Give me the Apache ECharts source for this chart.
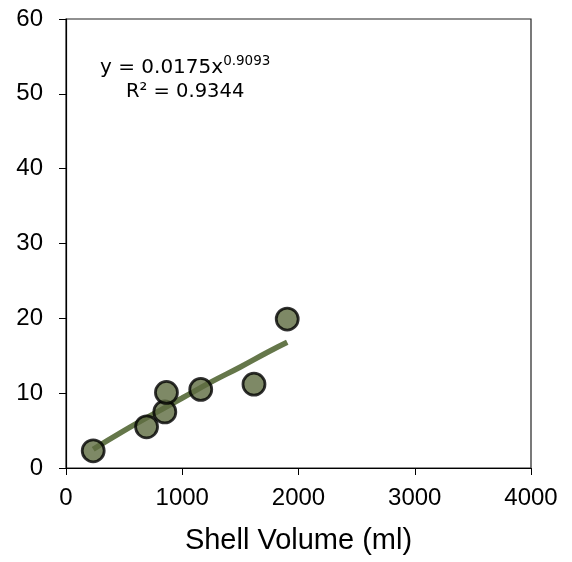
<!DOCTYPE html>
<html>
<head>
<meta charset="utf-8">
<script src="https://cdn.jsdelivr.net/npm/echarts@6/dist/echarts.min.js"></script>
<style>html,body{margin:0;padding:0;background:#fff}#c{width:572px;height:562px}</style>
</head>
<body>
<div id="c"></div>
<script>
var shellVolume = [234, 693, 850, 864, 1159, 1617, 1903];
var yValues = [2.3, 5.5, 7.5, 10.1, 10.5, 11.2, 19.9];
var trendX = [234, 500, 750, 1000, 1250, 1500, 1750, 1903];
var trendY = [2.5, 5.0, 7.2, 9.35, 11.5, 13.5, 15.6, 16.8];
var xTicks = [0, 1000, 2000, 3000, 4000];
var yTicks = [0, 10, 20, 30, 40, 50, 60];

var chart = echarts.init(document.getElementById('c'));
var pts = shellVolume.map(function (v, i) { return [v, yValues[i]]; });
var trend = trendX.map(function (v, i) { return [v, trendY[i]]; });

chart.setOption({
  animation: false,
  grid: { left: 66, right: 41, top: 19, bottom: 94, show: true, borderColor: '#222', borderWidth: 1.2 },
  xAxis: {
    type: 'value', min: 0, max: 4000, interval: 1000,
    name: 'Shell Volume (ml)', nameLocation: 'middle', nameGap: 58,
    nameTextStyle: { fontFamily: 'Liberation Sans', fontSize: 29, color: '#000' },
    axisLine: { show: true, lineStyle: { color: '#000', width: 1.2 } },
    axisTick: { show: true, length: 7, lineStyle: { color: '#000' } },
    axisLabel: { margin: 18, fontFamily: 'Liberation Sans', fontSize: 24, color: '#000',
      formatter: function (v) { return xTicks.indexOf(v) >= 0 ? String(v) : ''; } },
    splitLine: { show: false }
  },
  yAxis: {
    type: 'value', min: 0, max: 60, interval: 10,
    axisLine: { show: true, lineStyle: { color: '#000', width: 1.2 } },
    axisTick: { show: true, length: 7, lineStyle: { color: '#000' } },
    axisLabel: { margin: 23, fontFamily: 'Liberation Sans', fontSize: 24, color: '#000',
      formatter: function (v) { return yTicks.indexOf(v) >= 0 ? String(v) : ''; } },
    splitLine: { show: false }
  },
  series: [
    {
      type: 'line', data: trend, showSymbol: false, symbol: 'none', smooth: true,
      lineStyle: { color: '#65774a', width: 5.5 }, z: 2
    },
    {
      type: 'scatter', data: pts, symbol: 'circle', symbolSize: 22,
      itemStyle: { color: '#5e6c40', borderColor: '#000', borderWidth: 2.8 }, z: 3
    }
  ],
  graphic: [
    {
      type: 'text', left: 100, top: 54,
      style: {
        rich: {
          a: { fontFamily: 'DejaVu Sans', fontSize: 20, fill: '#000', verticalAlign: 'bottom', lineHeight: 24 },
          s: { fontFamily: 'DejaVu Sans', fontSize: 13.5, fill: '#000', verticalAlign: 'top', lineHeight: 24, padding: [0,0,10,0] }
        },
        text: '{a|y = 0.0175x}{s|0.9093}'
      }
    },
    {
      type: 'text', left: 126, top: 82,
      style: {
        fontFamily: 'DejaVu Sans', fontSize: 19.5, fill: '#000',
        text: 'R\u00b2 = 0.9344'
      }
    }
  ]
});
</script>
</body>
</html>
